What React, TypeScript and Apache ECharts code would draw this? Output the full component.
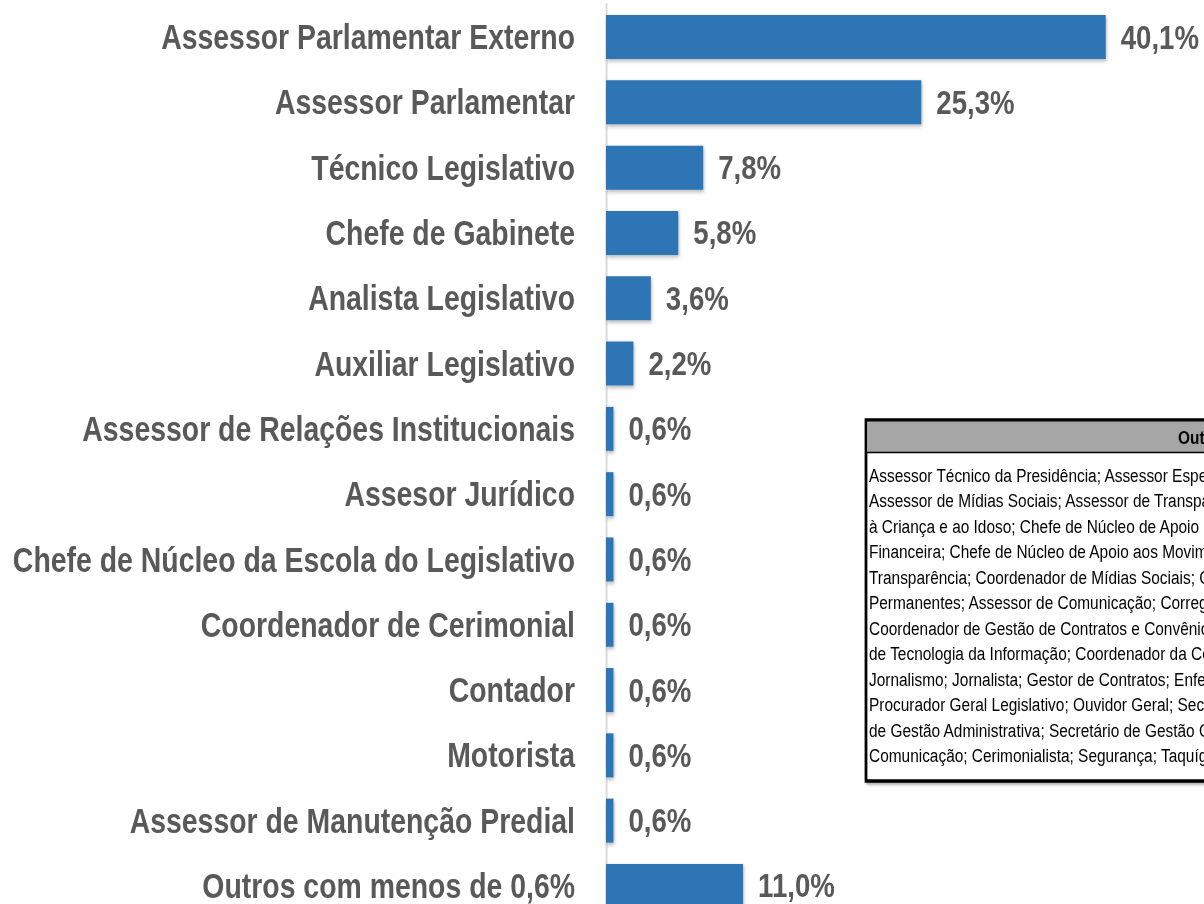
import React, { useEffect, useRef } from "react";
import * as echarts from "echarts";

const categories = [
  "Assessor Parlamentar Externo",
  "Assessor Parlamentar",
  "Técnico Legislativo",
  "Chefe de Gabinete",
  "Analista Legislativo",
  "Auxiliar Legislativo",
  "Assessor de Relações Institucionais",
  "Assesor Jurídico",
  "Chefe de Núcleo da Escola do Legislativo",
  "Coordenador de Cerimonial",
  "Contador",
  "Motorista",
  "Assessor de Manutenção Predial",
  "Outros com menos de 0,6%",
];

const values = [40.1, 25.3, 7.8, 5.8, 3.6, 2.2, 0.6, 0.6, 0.6, 0.6, 0.6, 0.6, 0.6, 11.0];

const boxTitle = "Outros com menos de 0,6%";
const boxLines = [
  "Assessor Técnico da Presidência; Assessor Especial;",
  "Assessor de Mídias Sociais; Assessor de Transparência;",
  "à Criança e ao Idoso; Chefe de Núcleo de Apoio ao",
  "Financeira; Chefe de Núcleo de Apoio aos Movimentos",
  "Transparência; Coordenador de Mídias Sociais; Coordenador",
  "Permanentes; Assessor de Comunicação; Corregedor",
  "Coordenador de Gestão de Contratos e Convênios;",
  "de Tecnologia da Informação; Coordenador da Comissão",
  "Jornalismo; Jornalista; Gestor de Contratos; Enfermeiro;",
  "Procurador Geral Legislativo; Ouvidor Geral; Secretário",
  "de Gestão Administrativa; Secretário de Gestão Orçamentária",
  "Comunicação; Cerimonialista; Segurança; Taquígrafo",
];

// Arial Narrow look: Arial-metric font squeezed horizontally
const SQ = 0.812;
const W = 1204;
const H = 904;
const FONT = '"Liberation Sans", Arial, sans-serif';
const px = (x: number) => x / SQ; // visual x -> chart x

const fmt = (v: number) => v.toFixed(1).replace(".", ",") + "%";

export default function App() {
  const ref = useRef<HTMLDivElement>(null);
  useEffect(() => {
    if (!ref.current) return;
    const chart = echarts.init(ref.current, undefined, { renderer: "svg" });
    const boxX = px(866);
    const boxY = 420;
    const boxH = 361;
    const lineTop = 475;
    const lineStep = 25.5;
    const graphic: any[] = [
      {
        type: "rect",
        shape: { x: boxX, y: boxY, width: 700, height: boxH },
        style: {
          fill: "#ffffff",
          stroke: "#000000",
          lineWidth: 3.4,
          shadowColor: "rgba(0,0,0,0.35)",
          shadowBlur: 3,
          shadowOffsetX: 2,
          shadowOffsetY: 2,
        },
        z: 10,
      },
      {
        type: "rect",
        shape: { x: boxX + 1.7, y: boxY + 1.7, width: 700, height: 30.3 },
        style: { fill: "#a6a6a6" },
        z: 11,
      },
      {
        type: "line",
        shape: { x1: boxX, y1: 452.5, x2: boxX + 700, y2: 452.5 },
        style: { stroke: "#000000", lineWidth: 1.5 },
        z: 12,
      },
      {
        type: "text",
        x: px(1178),
        y: 437,
        style: {
          text: boxTitle,
          font: "bold 19px " + FONT,
          fill: "#000000",
          textAlign: "left",
          textVerticalAlign: "middle",
        },
        z: 12,
      },
      ...boxLines.map((t, i) => ({
        type: "text",
        x: px(869),
        y: lineTop + i * lineStep,
        style: {
          text: t,
          font: "19px " + FONT,
          fill: "#000000",
          textAlign: "left",
          textVerticalAlign: "middle",
        },
        z: 12,
      })),
    ];
    chart.setOption({
      animation: false,
      grid: {
        left: px(606),
        right: 0,
        top: 4.4,
        bottom: -14.6,
        containLabel: false,
        outerBoundsMode: "none",
      },
      xAxis: {
        type: "value",
        min: 0,
        max: 48,
        show: false,
      },
      yAxis: {
        type: "category",
        inverse: true,
        data: categories,
        axisLine: { show: true, lineStyle: { color: "#d9d9d9", width: 2.4 } },
        axisTick: { show: false },
        splitLine: { show: false },
        axisLabel: {
          margin: px(31),
          color: "#595959",
          fontFamily: FONT,
          fontWeight: "bold",
          fontSize: 35,
        },
      },
      series: [
        {
          type: "bar",
          data: values,
          barWidth: 44,
          itemStyle: {
            color: "#2e75b6",
            shadowColor: "rgba(0,0,0,0.3)",
            shadowBlur: 4,
            shadowOffsetX: 1,
            shadowOffsetY: 2,
          },
          label: {
            show: true,
            position: "right",
            distance: px(15),
            color: "#595959",
            fontFamily: FONT,
            fontWeight: "bold",
            fontSize: 34,
            formatter: (p: any) => fmt(p.value),
          },
        },
      ],
      graphic,
    });
    return () => chart.dispose();
  }, []);
  return (
    <div
      style={{
        position: "absolute",
        left: 0,
        top: 0,
        width: W,
        height: H,
        overflow: "hidden",
        background: "#ffffff",
      }}
    >
      <div
        ref={ref}
        style={{
          width: W / SQ,
          height: H,
          transform: `scaleX(${SQ})`,
          transformOrigin: "0 0",
        }}
      />
    </div>
  );
}
